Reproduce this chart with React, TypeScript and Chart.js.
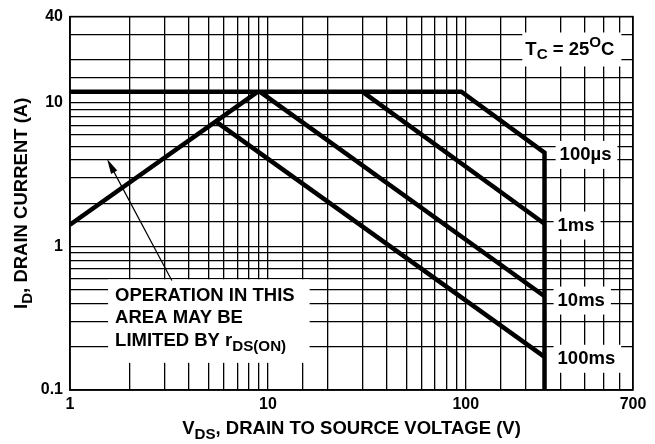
import React, { useEffect, useRef } from "react";
import { Chart, registerables } from "chart.js";
Chart.register(...registerables);

// axis ticks that carry labels
const vdsTickLabels = [1, 10, 100, 700];
const idTickLabels = [0.1, 1, 10, 40];

// SOA boundary curves (V_DS in volts, I_D in amps)
const limitV = [1, 95, 250, 250];
const limitI = [12, 12, 4.5, 0.1];
const ms1V = [30, 250];
const ms1I = [12, 1.44];
const ms10V = [9.1, 250];
const ms10I = [12, 0.45];
const ms100V = [5.4, 250];
const ms100I = [7.5, 0.17];
const rdsV = [1, 8.9];
const rdsI = [1.42, 12];

// curve labels
const curveLabels = ["100µs", "1ms", "10ms", "100ms"];
const curveLabelV = [298, 291, 291, 291];
const curveLabelI = [4.35, 1.4, 0.42, 0.165];

// annotation anchors (data coords)
const tcAnchor = { v: 200, i: 23.6 };
const noteAnchor = { v: 1.69, i: 0.453 };
const arrowTail = { v: 3.27, i: 0.58 };
const arrowTip = { v: 1.54, i: 4.07 };

const FONT = '"Liberation Sans", Arial, Helvetica, sans-serif';
const SUB = 0.82;

type Part = { t: string; s?: "sub" | "sup" };

function richWidth(ctx: CanvasRenderingContext2D, parts: Part[], size: number) {
  let w = 0;
  for (const p of parts) {
    const sz = p.s ? size * SUB : size;
    ctx.font = `bold ${sz}px ${FONT}`;
    w += ctx.measureText(p.t).width;
  }
  return w;
}

function drawRich(
  ctx: CanvasRenderingContext2D,
  parts: Part[],
  x: number,
  y: number,
  size: number,
  align: "left" | "center" = "left"
) {
  const w = richWidth(ctx, parts, size);
  let cx = align === "center" ? x - w / 2 : x;
  ctx.textBaseline = "middle";
  ctx.textAlign = "left";
  ctx.fillStyle = "#000";
  for (const p of parts) {
    const sz = p.s ? size * SUB : size;
    ctx.font = `bold ${sz}px ${FONT}`;
    const dy = p.s === "sub" ? size * 0.3 : p.s === "sup" ? -size * 0.35 : 0;
    ctx.fillText(p.t, cx, y + dy);
    cx += ctx.measureText(p.t).width;
  }
  return w;
}

function pts(vs: number[], is: number[]) {
  return vs.map((v, k) => ({ x: v, y: is[k] }));
}

const near = (a: number, list: number[]) => list.some((b) => Math.abs(a - b) / b < 1e-6);

const annotationPlugin = {
  id: "soaAnnotations",
  afterDatasetsDraw(chart: any) {
    const ctx: CanvasRenderingContext2D = chart.ctx;
    const xs = chart.scales.x;
    const ys = chart.scales.y;
    const ca = chart.chartArea;
    ctx.save();

    // frame
    ctx.strokeStyle = "#000";
    ctx.lineWidth = 1.5;
    ctx.strokeRect(ca.left, ca.top, ca.right - ca.left, ca.bottom - ca.top);

    // curve labels with white background
    const size = 18.5;
    curveLabels.forEach((lab, k) => {
      const px = xs.getPixelForValue(curveLabelV[k]);
      const py = ys.getPixelForValue(curveLabelI[k]);
      const parts: Part[] = [{ t: lab }];
      const w = richWidth(ctx, parts, size);
      ctx.fillStyle = "#fff";
      ctx.fillRect(px - 4, py - 14, w + 10, 28);
      drawRich(ctx, parts, px, py, size);
    });

    // T_C label
    {
      const px = xs.getPixelForValue(tcAnchor.v);
      const py = ys.getPixelForValue(tcAnchor.i);
      const parts: Part[] = [
        { t: "T" },
        { t: "C", s: "sub" },
        { t: " = 25" },
        { t: "O", s: "sup" },
        { t: "C" },
      ];
      const w = richWidth(ctx, parts, size);
      ctx.fillStyle = "#fff";
      ctx.fillRect(px - 3, py - 17, w + 10, 34);
      drawRich(ctx, parts, px, py, size);
    }

    // note box
    {
      const px = xs.getPixelForValue(noteAnchor.v);
      const py = ys.getPixelForValue(noteAnchor.i);
      const lh = 22.5;
      const lines: Part[][] = [
        [{ t: "OPERATION IN THIS" }],
        [{ t: "AREA MAY BE" }],
        [{ t: "LIMITED BY r" }, { t: "DS(ON)", s: "sub" }],
      ];
      const maxW = Math.max(...lines.map((l) => richWidth(ctx, l, size)));
      ctx.fillStyle = "#fff";
      ctx.fillRect(px - 7, py - 16.5, maxW + 22, lh * 2 + 16.5 + 22);
      lines.forEach((l, k) => drawRich(ctx, l, px, py + k * lh, size));
    }

    // arrow
    {
      const x1 = xs.getPixelForValue(arrowTail.v);
      const y1 = ys.getPixelForValue(arrowTail.i);
      const x2 = xs.getPixelForValue(arrowTip.v);
      const y2 = ys.getPixelForValue(arrowTip.i);
      const ang = Math.atan2(y2 - y1, x2 - x1);
      const hl = 15;
      const hw = 3.5;
      ctx.strokeStyle = "#000";
      ctx.lineWidth = 1.2;
      ctx.beginPath();
      ctx.moveTo(x1, y1);
      ctx.lineTo(x2 - Math.cos(ang) * hl * 0.8, y2 - Math.sin(ang) * hl * 0.8);
      ctx.stroke();
      ctx.fillStyle = "#000";
      ctx.beginPath();
      ctx.moveTo(x2, y2);
      ctx.lineTo(
        x2 - Math.cos(ang) * hl - Math.sin(ang) * hw,
        y2 - Math.sin(ang) * hl + Math.cos(ang) * hw
      );
      ctx.lineTo(
        x2 - Math.cos(ang) * hl + Math.sin(ang) * hw,
        y2 - Math.sin(ang) * hl - Math.cos(ang) * hw
      );
      ctx.closePath();
      ctx.fill();
    }

    // axis titles
    const tsize = 18.5;
    drawRich(
      ctx,
      [{ t: "V" }, { t: "DS", s: "sub" }, { t: ", DRAIN TO SOURCE VOLTAGE (V)" }],
      (ca.left + ca.right) / 2,
      429,
      tsize,
      "center"
    );
    ctx.save();
    ctx.translate(22, (ca.top + ca.bottom) / 2);
    ctx.rotate(-Math.PI / 2);
    drawRich(
      ctx,
      [{ t: "I" }, { t: "D", s: "sub" }, { t: ", DRAIN CURRENT (A)" }],
      0,
      0,
      tsize,
      "center"
    );
    ctx.restore();

    ctx.restore();
  },
};

export default function App() {
  const ref = useRef<HTMLCanvasElement | null>(null);

  useEffect(() => {
    document.body.style.margin = "0";
    const canvas = ref.current!;
    const line = (data: { x: number; y: number }[]) => ({
      data,
      showLine: true,
      borderColor: "#000",
      backgroundColor: "#000",
      borderWidth: 4.5,
      pointRadius: 0,
      borderJoinStyle: "miter" as const,
      borderCapStyle: "butt" as const,
      tension: 0,
      fill: false,
    });
    const chart = new Chart(canvas, {
      type: "scatter",
      data: {
        datasets: [
          { label: "100µs", ...line(pts(limitV, limitI)) },
          { label: "1ms", ...line(pts(ms1V, ms1I)) },
          { label: "10ms", ...line(pts(ms10V, ms10I)) },
          { label: "100ms", ...line(pts(ms100V, ms100I)) },
          { label: "rDS(ON)", ...line(pts(rdsV, rdsI)) },
        ],
      },
      options: {
        animation: false,
        responsive: false,
        layout: { padding: { left: 0, top: 15, right: 22, bottom: 0 } },
        plugins: {
          legend: { display: false },
          tooltip: { enabled: false },
        },
        scales: {
          x: {
            type: "logarithmic",
            min: 1,
            max: 700,
            afterFit: (s: any) => {
              s.height = 54;
            },
            border: { display: true, color: "#000", width: 1.5 },
            grid: { color: "#000", lineWidth: 1.3, drawTicks: false },
            ticks: {
              autoSkip: false,
              maxRotation: 0,
              minRotation: 0,
              padding: 5,
              color: "#000",
              font: { family: FONT, size: 16, weight: "bold" },
              callback: (v: any) => (near(Number(v), vdsTickLabels) ? String(Number(v)) : ""),
            },
          },
          y: {
            type: "logarithmic",
            min: 0.1,
            max: 40,
            afterFit: (s: any) => {
              s.width = 70;
            },
            border: { display: true, color: "#000", width: 1.5 },
            grid: { color: "#000", lineWidth: 1.3, drawTicks: false },
            ticks: {
              autoSkip: false,
              padding: 7,
              color: "#000",
              font: { family: FONT, size: 16, weight: "bold" },
              callback: (v: any) => (near(Number(v), idTickLabels) ? String(Number(v)) : ""),
            },
          },
        },
      },
      plugins: [annotationPlugin],
    } as any);
    return () => chart.destroy();
  }, []);

  return (
    <div style={{ width: 655, height: 444, background: "#fff" }}>
      <canvas ref={ref} width={655} height={444} style={{ display: "block" }} />
    </div>
  );
}
